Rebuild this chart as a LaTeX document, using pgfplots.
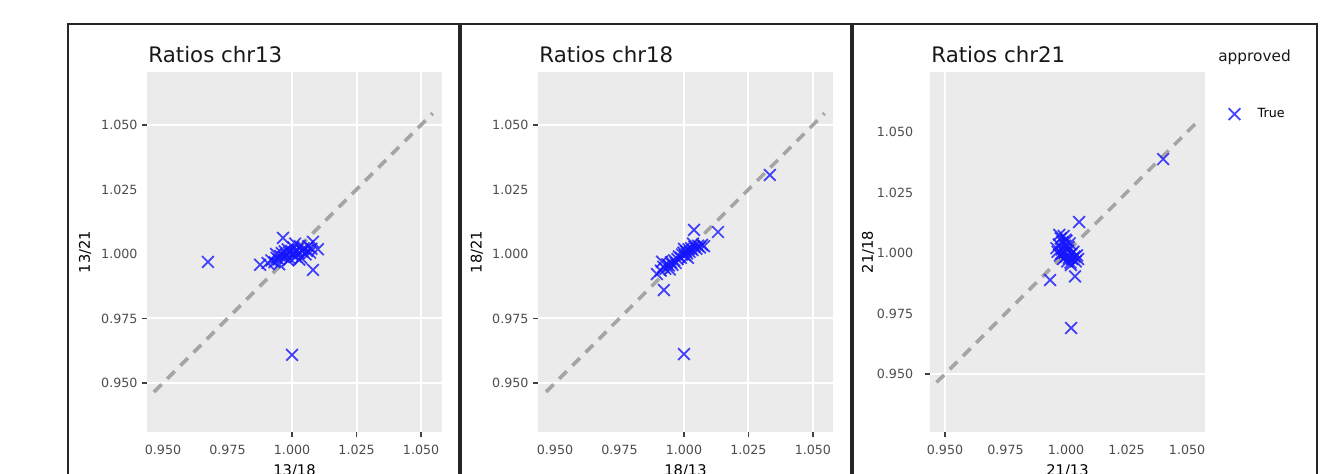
\documentclass[border=0pt]{standalone}
\usepackage{fontspec}
\setmainfont{DejaVu Sans}
\usepackage{pgfplots}
\pgfplotsset{compat=1.18}
\definecolor{bgcol}{RGB}{235,235,235}
\definecolor{tickcol}{RGB}{77,77,77}
\definecolor{ptcol}{RGB}{20,20,255}
\definecolor{dashcol}{RGB}{165,165,165}
\pgfplotsset{
 panel/.style={
  scale only axis, height=270pt, anchor=north west,
  axis background/.style={fill=bgcol},
  axis line style={draw=none},
  xtick={0.95,0.975,1,1.025,1.05}, ytick={0.95,0.975,1,1.025,1.05},
  xticklabels={0.950,0.975,1.000,1.025,1.050},
  yticklabels={0.950,0.975,1.000,1.025,1.050},
  major tick length=0pt,
  tick label style={font=\fontsize{9.5}{10}\selectfont, text=tickcol},
  xticklabel style={yshift=-6pt},
  yticklabel style={xshift=-3.6pt},
  tick pos=left,
  extra tick style={grid=major, major grid style={white, line width=1.5pt},
    major tick length=3.5pt, tick align=outside, tick style={black!75, line width=1.1pt}},
  extra x tick labels={}, extra y tick labels={},
  every axis title shift=0pt,
  title style={font=\fontsize{16}{17}\selectfont, text=black!90, anchor=base west, inner sep=0pt, at={(axis description cs:0.004,1.025)}},
  label style={font=\fontsize{11}{12}\selectfont},
  xlabel style={at={(axis description cs:0.5,-0.089)}, anchor=north, inner sep=0pt},
  clip=true,
 },
 pts/.style={only marks, mark=x, mark size=6.2pt, ptcol, opacity=0.8, mark options={line width=1.3pt}},
 diag/.style={no marks, dashcol, line width=2.7pt, dash pattern=on 8pt off 6pt, forget plot},
}
\begin{document}
\begin{tikzpicture}
\path[use as bounding box, clip] (0,0) rectangle (994.5pt,355.5pt);
% panel frames
\draw[line width=1.5pt, black!85] (51pt,337.5pt) rectangle (344.25pt,-12pt);
\draw[line width=1.5pt, black!85] (345.75pt,337.5pt) rectangle (638.25pt,-12pt);
\draw[line width=1.5pt, black!85] (639.75pt,337.5pt) rectangle (987.75pt,-12pt);

% Panel 1
\begin{axis}[panel, at={(110.25pt,301.5pt)}, width=221.25pt,
  xmin=0.9438, xmax=1.0581, ymin=0.931, ymax=1.0705,
  extra x ticks={1,1.025,1.05}, extra y ticks={0.95,0.975,1.05},
  title={Ratios chr13}, xlabel={13/18}, ylabel={13/21},
  ylabel style={at={(axis description cs:-0.21,0.5)}, anchor=center}]
\addplot[pts] coordinates {
(0.9674,0.9969) (1.0000,0.9609) (0.9876,0.9958) (1.0081,0.9938) (0.9965,1.0062)
(1.0081,1.0047) (1.0100,1.0018)
(0.9905,0.9965) (0.9920,0.9975) (0.9932,0.9968) (0.9940,0.9985) (0.9948,0.9978)
(0.9955,0.9992) (0.9960,1.0003) (0.9968,0.9988) (0.9972,1.0010) (0.9978,0.9996)
(0.9983,1.0018) (0.9988,1.0005) (0.9992,0.9982) (0.9997,1.0012) (1.0002,0.9995)
(1.0005,1.0025) (1.0010,1.0008) (1.0015,0.9990) (1.0020,1.0015) (1.0025,1.0002)
(1.0030,1.0030) (1.0035,0.9985) (1.0040,1.0010) (1.0045,1.0022) (1.0052,0.9998)
(1.0058,1.0012) (1.0063,1.0030) (1.0070,1.0005) (1.0075,1.0020) (0.9950,0.9960)
(0.9985,0.9975) (1.0012,1.0040) (0.9938,1.0000) (1.0028,0.9978)
};
\addplot[diag] coordinates {(0.9465,0.9465) (1.0545,1.0545)};
\end{axis}

% Panel 2
\begin{axis}[panel, at={(403.5pt,301.5pt)}, width=221.25pt,
  xmin=0.9434, xmax=1.0578, ymin=0.931, ymax=1.0705,
  extra x ticks={1,1.025,1.05}, extra y ticks={0.95,0.975,1.05},
  title={Ratios chr18}, xlabel={18/13}, ylabel={18/21},
  ylabel style={at={(axis description cs:-0.207,0.5)}, anchor=center}]
\addplot[pts] coordinates {
(1.0333,1.0306) (1.0132,1.0085) (1.0039,1.0093) (1.0000,0.9612) (0.9922,0.9860)
(0.9895,0.9922)
(0.9910,0.9935) (0.9920,0.9950) (0.9928,0.9942) (0.9935,0.9960) (0.9942,0.9955)
(0.9950,0.9968) (0.9955,0.9958) (0.9962,0.9975) (0.9968,0.9965) (0.9975,0.9980)
(0.9980,0.9990) (0.9988,0.9985) (0.9993,0.9998) (0.9998,1.0005) (1.0003,0.9995)
(1.0008,1.0010) (1.0012,1.0002) (1.0018,1.0018) (1.0022,1.0008) (1.0028,1.0022)
(1.0033,1.0015) (1.0040,1.0028) (1.0048,1.0020) (1.0055,1.0032) (1.0062,1.0025)
(1.0070,1.0035) (1.0078,1.0030) (0.9945,0.9940) (1.0000,1.0020) (1.0015,0.9985)
(0.9915,0.9970) (1.0035,1.0040)
};
\addplot[diag] coordinates {(0.9465,0.9465) (1.0545,1.0545)};
\end{axis}

% Panel 3
\begin{axis}[panel, at={(697.5pt,301.5pt)}, width=206.25pt,
  xmin=0.9438, xmax=1.0574, ymin=0.926, ymax=1.0748,
  extra x ticks={0.95}, extra y ticks={0.95},
  yticklabel style={xshift=-5.5pt},
  title={Ratios chr21}, xlabel={21/13}, ylabel={21/18},
  ylabel style={at={(axis description cs:-0.225,0.5)}, anchor=center},
  legend style={draw=none, fill=none, at={(axis description cs:1.085,0.883)}, anchor=west,
    font=\fontsize{9.5}{10}\selectfont, inner sep=0pt, column sep=11pt}]
\addplot[pts] coordinates {
(1.0401,1.0388) (1.0054,1.0128) (0.9934,0.9888) (1.0021,0.9690) (1.0037,0.9903)
(0.9960,1.0020) (0.9965,1.0005) (0.9970,1.0035) (0.9975,0.9990) (0.9978,1.0060)
(0.9982,1.0015) (0.9985,1.0045) (0.9988,0.9975) (0.9990,1.0070) (0.9993,1.0000)
(0.9996,1.0030) (1.0000,0.9985) (1.0002,1.0050) (1.0005,0.9965) (1.0008,1.0010)
(1.0012,0.9980) (1.0015,1.0040) (1.0018,0.9960) (1.0022,0.9995) (1.0025,0.9975)
(1.0030,1.0005) (1.0035,0.9985) (1.0040,0.9965) (1.0045,0.9990) (1.0050,0.9975)
(0.9972,1.0075) (0.9998,1.0055) (1.0010,1.0025) (1.0020,0.9950) (0.9980,0.9998)
};
\addlegendentry{True}
\addplot[diag] coordinates {(0.9465,0.9465) (1.0545,1.0545)};
\end{axis}
\node[anchor=base west, inner sep=0pt, font=\fontsize{11.5}{12}\selectfont, text=black!90] at (913.5pt,309pt) {approved};
\end{tikzpicture}
\end{document}
